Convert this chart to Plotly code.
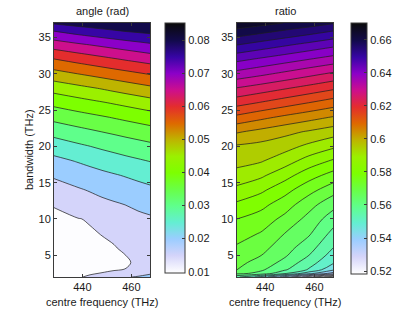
import plotly.graph_objects as go

# ---------------- data ----------------
bw = [2, 2.5, 3, 4, 5, 6, 8, 10, 12, 14, 16, 18, 20, 22, 24, 26, 28, 30, 32, 34, 36, 37]  # bandwidth (THz)

freq_angle = [428.4, 438.2, 443.1, 448.0, 452.9, 457.8, 462.7, 467.6]   # centre frequency (THz)
angle = [
    [0.0125, 0.0148, 0.0153, 0.0158, 0.0178, 0.0195, 0.0205, 0.0215],
    [0.0127, 0.0147, 0.0148, 0.0151, 0.0157, 0.0165, 0.0180, 0.0195],
    [0.0130, 0.0143, 0.0144, 0.0146, 0.0148, 0.0151, 0.0163, 0.0178],
    [0.0132, 0.0140, 0.0141, 0.0143, 0.0144, 0.0146, 0.0156, 0.0168],
    [0.0134, 0.0140, 0.0141, 0.0143, 0.0144, 0.01502, 0.0158, 0.0167],
    [0.0136, 0.0141, 0.0142, 0.0145, 0.01475, 0.0157, 0.0163, 0.0170],
    [0.0139, 0.0145, 0.0147, 0.0151, 0.0158, 0.0172, 0.0176, 0.0180],
    [0.0143, 0.01488, 0.01525, 0.0170, 0.0178, 0.0186, 0.0190, 0.0194],
    [0.0152, 0.01714, 0.0180, 0.0189, 0.0195, 0.02009, 0.02083, 0.02158],
    [0.01795, 0.01952, 0.02033, 0.02114, 0.0219, 0.02267, 0.02334, 0.02401],
    [0.02058, 0.02234, 0.02311, 0.02388, 0.0246, 0.02532, 0.02612, 0.02693],
    [0.02371, 0.02534, 0.02622, 0.02711, 0.0279, 0.02871, 0.02944, 0.03018],
    [0.02736, 0.02911, 0.02996, 0.03082, 0.03162, 0.03242, 0.03312, 0.03383],
    [0.03166, 0.03345, 0.03423, 0.03502, 0.03576, 0.03651, 0.03724, 0.03798],
    [0.03647, 0.03800, 0.03875, 0.03950, 0.04029, 0.04108, 0.04185, 0.04263],
    [0.04132, 0.04301, 0.04380, 0.04459, 0.04543, 0.04626, 0.04711, 0.04796],
    [0.04690, 0.04859, 0.04945, 0.05032, 0.05126, 0.05219, 0.05306, 0.05393],
    [0.05315, 0.05503, 0.05591, 0.05680, 0.05769, 0.05857, 0.05945, 0.06034],
    [0.05983, 0.06176, 0.06269, 0.06362, 0.06454, 0.06545, 0.06628, 0.06712],
    [0.06740, 0.06923, 0.07008, 0.07093, 0.07177, 0.07261, 0.07343, 0.07425],
    [0.07552, 0.07748, 0.07832, 0.07917, 0.07994, 0.08070, 0.08123, 0.08177],
    [0.08070, 0.08224, 0.08287, 0.08350, 0.08410, 0.08470, 0.08500, 0.08530],
]

freq_ratio = [428.4, 438.2, 448.0, 457.8, 467.6]   # centre frequency (THz)
ratio = [
    [0.556, 0.548, 0.538, 0.527, 0.516],
    [0.5665, 0.5635, 0.556, 0.547, 0.538],
    [0.5703, 0.56587, 0.56059, 0.55444, 0.546],
    [0.5716, 0.56804, 0.56353, 0.55722, 0.55083],
    [0.5730, 0.57015, 0.5657, 0.56002, 0.55292],
    [0.5743, 0.57167, 0.56711, 0.5620, 0.55502],
    [0.57714, 0.5747, 0.56993, 0.56568, 0.55857],
    [0.58002, 0.57788, 0.57361, 0.56838, 0.5624],
    [0.58417, 0.58152, 0.57745, 0.5719, 0.56675],
    [0.58864, 0.58607, 0.58175, 0.57677, 0.57206],
    [0.59318, 0.59091, 0.58689, 0.58205, 0.57813],
    [0.59666, 0.59545, 0.59224, 0.58793, 0.58438],
    [0.5994, 0.59846, 0.59686, 0.59384, 0.59094],
    [0.60551, 0.60348, 0.60141, 0.59942, 0.59733],
    [0.61373, 0.61125, 0.60891, 0.60677, 0.60462],
    [0.62189, 0.61963, 0.61727, 0.61492, 0.6125],
    [0.62969, 0.6276, 0.6254, 0.62316, 0.62083],
    [0.63821, 0.6361, 0.63384, 0.63149, 0.62917],
    [0.64634, 0.64423, 0.64217, 0.64004, 0.63792],
    [0.65517, 0.65295, 0.65073, 0.64857, 0.64636],
    [0.66406, 0.66204, 0.65991, 0.65779, 0.6555],
    [0.66877, 0.66689, 0.66485, 0.66276, 0.6605],
]

angle_ticks = [0.01, 0.02, 0.03, 0.04, 0.05, 0.06, 0.07, 0.08]
angle_ticktext = ["0.01", "0.02", "0.03", "0.04", "0.05", "0.06", "0.07", "0.08"]
ratio_ticks = [0.52, 0.54, 0.56, 0.58, 0.60, 0.62, 0.64, 0.66]
ratio_ticktext = ["0.52", "0.54", "0.56", "0.58", "0.6", "0.62", "0.64", "0.66"]

# ---------------- styling ----------------
FONT = "Liberation Sans, Arial, sans-serif"
W, H = 415, 313

stops = [
    (0.000, (255, 255, 255)),
    (0.070, (212, 212, 250)),
    (0.136, (155, 205, 255)),
    (0.202, (100, 238, 210)),
    (0.268, (95, 255, 140)),
    (0.335, (105, 255, 70)),
    (0.401, (125, 255, 0)),
    (0.467, (155, 240, 0)),
    (0.533, (190, 180, 0)),
    (0.599, (222, 105, 0)),
    (0.665, (228, 45, 45)),
    (0.731, (205, 15, 140)),
    (0.798, (140, 0, 200)),
    (0.864, (55, 5, 165)),
    (0.930, (18, 10, 75)),
    (1.000, (10, 10, 10)),
]
base_scale = [[p, "rgb(%d,%d,%d)" % c] for p, c in stops]


def cmap(p):
    p = min(max(p, 0.0), 1.0)
    for (p0, c0), (p1, c1) in zip(stops[:-1], stops[1:]):
        if p <= p1:
            f = 0 if p1 == p0 else (p - p0) / (p1 - p0)
            c = [round(a + (b - a) * f) for a, b in zip(c0, c1)]
            return "rgb(%d,%d,%d)" % tuple(c)
    return "rgb(%d,%d,%d)" % stops[-1][1]


def band_scale(start, end, size, cmin, cmax):
    nc = int((end + size / 10 - start) // size) + 1
    levels = [start + k * size for k in range(nc)]
    cols = [cmap((start - size - cmin) / (cmax - cmin))]
    cols += [cmap((lv - cmin) / (cmax - cmin)) for lv in levels]
    return [[j / nc, cols[j]] for j in range(nc + 1)]


def px_x(p):
    return p / W


def px_y(p):
    return 1 - p / H


fig = go.Figure()

panels = [
    dict(x=freq_angle, z=angle, start=0.015, end=0.08, size=0.005, cmin=0.0097, cmax=0.0853,
         ax="x", ay="y", cbx=165, cbw=20, cbtop=22.3, cbbot=272.7,
         ticks=angle_ticks, ticktext=angle_ticktext),
    dict(x=freq_ratio, z=ratio, start=0.52, end=0.665, size=0.005, cmin=0.5182, cmax=0.6702,
         ax="x2", ay="y2", cbx=351, cbw=16, cbtop=23, cbbot=274,
         ticks=ratio_ticks, ticktext=ratio_ticktext),
]

for pn in panels:
    fig.add_trace(go.Contour(
        x=pn["x"], y=bw, z=pn["z"], xaxis=pn["ax"], yaxis=pn["ay"],
        autocontour=False,
        contours=dict(start=pn["start"], end=pn["end"], size=pn["size"],
                      coloring="fill", showlines=True),
        colorscale=band_scale(pn["start"], pn["end"], pn["size"], pn["cmin"], pn["cmax"]),
        line=dict(color="rgba(30,30,30,0.9)", width=0.8, smoothing=1),
        showscale=False, hoverinfo="skip",
    ))
    fig.add_trace(go.Scatter(
        x=[pn["x"][0]], y=[bw[0]], xaxis=pn["ax"], yaxis=pn["ay"], mode="markers",
        marker=dict(size=1, opacity=0, color=[pn["cmin"]], cmin=pn["cmin"], cmax=pn["cmax"],
                    colorscale=base_scale, showscale=True,
                    colorbar=dict(
                        x=px_x(pn["cbx"]), xanchor="left", xpad=0, ypad=0,
                        y=px_y(pn["cbbot"]), yanchor="bottom",
                        len=(pn["cbbot"] - pn["cbtop"]) / H, lenmode="fraction",
                        thickness=pn["cbw"], thicknessmode="pixels",
                        outlinewidth=1, outlinecolor="#3a3a3a",
                        ticks="inside", ticklen=3, tickcolor="#3a3a3a",
                        tickvals=pn["ticks"], ticktext=pn["ticktext"],
                        tickfont=dict(family=FONT, size=11, color="#1a1a1a"),
                    )),
        hoverinfo="skip", showlegend=False,
    ))

axis_common = dict(showgrid=False, zeroline=False, showline=True, mirror="ticks",
                   linecolor="#3a3a3a", linewidth=1, ticks="inside", ticklen=3,
                   tickcolor="#3a3a3a", tickfont=dict(family=FONT, size=11, color="#1a1a1a"))

ydom = [px_y(277), px_y(23)]
fig.update_layout(
    width=W, height=H, margin=dict(l=0, r=0, t=0, b=0),
    paper_bgcolor="white", plot_bgcolor="white", showlegend=False,
    xaxis=dict(domain=[px_x(54), px_x(150)], range=[428.4, 467.6], tickvals=[440, 460],
               anchor="y", **axis_common),
    yaxis=dict(domain=ydom, range=[2, 37], tickvals=[5, 10, 15, 20, 25, 30, 35],
               anchor="x", **axis_common),
    xaxis2=dict(domain=[px_x(236.7), px_x(333)], range=[428.4, 467.6], tickvals=[440, 460],
                anchor="y2", **axis_common),
    yaxis2=dict(domain=ydom, range=[2, 37], tickvals=[5, 10, 15, 20, 25, 30, 35],
                anchor="x2", **axis_common),
)

ann_font = dict(family=FONT, size=11, color="#1a1a1a")
annotations = [
    ("angle (rad)", 102, 11, 0),
    ("ratio", 285, 11, 0),
    ("centre frequency (THz)", 102, 302, 0),
    ("centre frequency (THz)", 284.5, 302, 0),
    ("bandwidth (THz)", 29, 150, -90),
]
for text, xp, yp, rot in annotations:
    fig.add_annotation(text=text, x=px_x(xp), y=px_y(yp), xref="paper", yref="paper",
                       xanchor="center", yanchor="middle", showarrow=False,
                       textangle=rot, font=ann_font)

fig.write_html("out.html", config={"displayModeBar": False},
               post_script="document.body.style.margin='0px';")
